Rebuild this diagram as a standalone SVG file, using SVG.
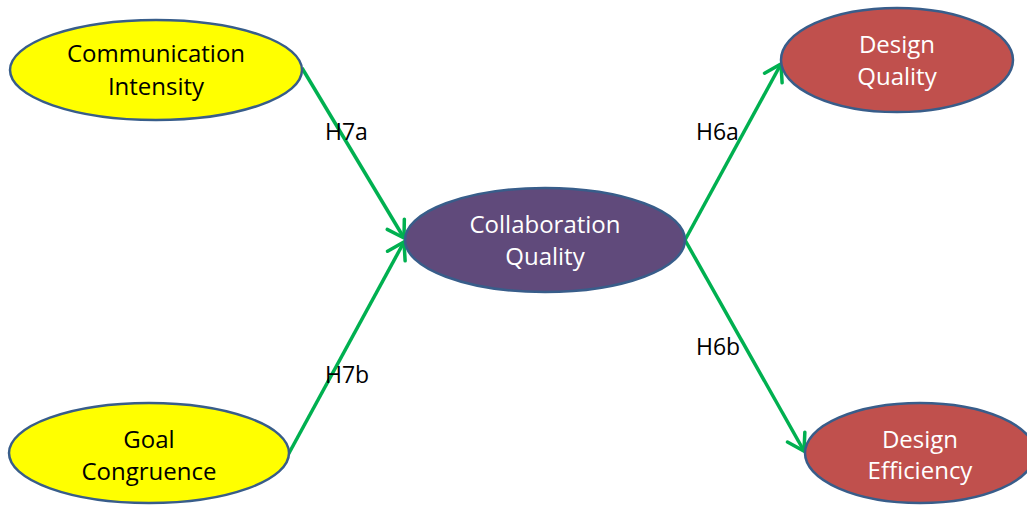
<svg xmlns="http://www.w3.org/2000/svg" width="1027" height="505" viewBox="0 0 1027 505">
<style>
.node{stroke:#385D8A;stroke-width:2.5}
.yel{fill:#FFFF00}
.pur{fill:#604A7B}
.red{fill:#C0504D}
.t{font-family:"Open Sans","Noto Sans",sans-serif;font-size:24px;text-anchor:middle}
.dk{fill:#000}
.lt{fill:#FFFFFF}
.lbl{font-family:"Open Sans","Noto Sans",sans-serif;font-size:23px;fill:#000}
.edge{stroke:#00B050;stroke-width:3.5;fill:none}
</style>
<defs>
<marker id="arr" markerUnits="userSpaceOnUse" viewBox="-20 -14 24 28" refX="0" refY="0" markerWidth="24" markerHeight="28" orient="auto" overflow="visible">
<path d="M-16,-10 L0,0 L-16,10" fill="none" stroke="#00B050" stroke-width="3.5" stroke-linecap="round" stroke-linejoin="miter"/>
</marker>
</defs>
<rect width="1027" height="505" fill="#FFFFFF"/>
<g id="connectors">
<line class="edge" x1="302" y1="68" x2="404" y2="238" marker-end="url(#arr)"/>
<line class="edge" x1="288" y1="455" x2="404" y2="242" marker-end="url(#arr)"/>
<line class="edge" x1="685" y1="240" x2="781" y2="64" marker-end="url(#arr)"/>
<line class="edge" x1="685" y1="240" x2="804" y2="451" marker-end="url(#arr)"/>
<text class="lbl" x="325" y="140">H7a</text>
<text class="lbl" x="325" y="383">H7b</text>
<text class="lbl" x="696" y="140">H6a</text>
<text class="lbl" x="696" y="355">H6b</text>
</g>
<g id="communication-intensity">
<ellipse class="node yel" cx="156" cy="70" rx="146" ry="50"/>
<text class="t dk" x="156" y="62">Communication</text>
<text class="t dk" x="156" y="95">Intensity</text>
</g>
<g id="goal-congruence">
<ellipse class="node yel" cx="149" cy="453" rx="140" ry="50"/>
<text class="t dk" x="149" y="448">Goal</text>
<text class="t dk" x="149" y="480">Congruence</text>
</g>
<g id="collaboration-quality">
<ellipse class="node pur" cx="545" cy="240" rx="140" ry="52"/>
<text class="t lt" x="545" y="233">Collaboration</text>
<text class="t lt" x="545" y="265">Quality</text>
</g>
<g id="design-quality">
<ellipse class="node red" cx="897" cy="60" rx="116" ry="52"/>
<text class="t lt" x="897" y="53">Design</text>
<text class="t lt" x="897" y="85">Quality</text>
</g>
<g id="design-efficiency">
<ellipse class="node red" cx="920" cy="453" rx="115" ry="50"/>
<text class="t lt" x="920" y="448">Design</text>
<text class="t lt" x="920" y="479">Efficiency</text>
</g>
</svg>
